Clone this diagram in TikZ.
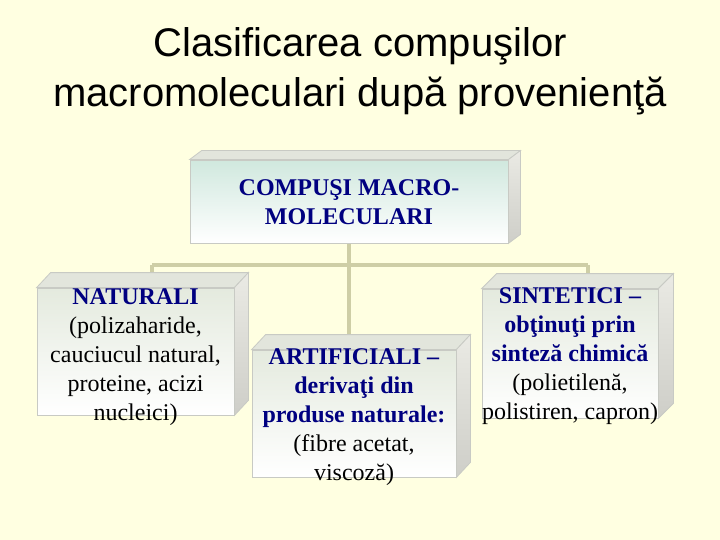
\documentclass[tikz,border=0pt]{standalone}
\usepackage{fontspec}
\setmainfont{Liberation Serif}
\newfontfamily\titlefont{Liberation Sans}
\usetikzlibrary{calc}
\definecolor{bgyel}{RGB}{255,255,225}
\definecolor{navyt}{RGB}{0,0,128}
\definecolor{linek}{RGB}{206,206,166}
\definecolor{edgeg}{RGB}{200,202,196}
\definecolor{facetop}{RGB}{228,234,222}
\definecolor{faceteal}{RGB}{208,232,222}
\definecolor{topf}{RGB}{226,229,220}
\definecolor{sidea}{RGB}{234,234,228}
\definecolor{sideb}{RGB}{206,206,200}
\pgfdeclarelayer{background}
\pgfsetlayers{background,main}
\tikzset{
  frontface/.style={draw=edgeg, line width=0.8pt, top color=facetop, bottom color=white, inner sep=0pt},
  boxtext/.style={inner sep=0pt, align=center, font=\fontsize{24}{29}\selectfont},
  conn/.style={draw=linek, line width=3.5pt},
  titletxt/.style={font=\titlefont\fontsize{40}{48}\selectfont, anchor=base, inner sep=0pt}
}
\newcommand\hdtxt[1]{{\bfseries\color{navyt}#1}}
\newcommand\extrude[3]{%
  \path[fill=topf, draw=edgeg, line width=0.8pt] (#1.north west) -- ++(#2,#3)
     -- ($(#1.north east)+(#2,#3)$) -- (#1.north east) -- cycle;
  \path[top color=sidea, bottom color=sideb, draw=edgeg, line width=0.8pt] (#1.north east) -- ++(#2,#3)
     -- ($(#1.south east)+(#2,#3)$) -- (#1.south east) -- cycle;}
\begin{document}
\begin{tikzpicture}[x=1pt,y=-1pt]
\useasboundingbox (0,0) rectangle (720,540);
\begin{pgfonlayer}{background}
\fill[bgyel] (0,0) rectangle (720,540);
\end{pgfonlayer}

\node[titletxt] (t1) at (360,57) {Clasificarea compuşilor};
\node[titletxt] (t2) at (360,107) {macromoleculari după provenienţă};

% boxes
\node[frontface, top color=faceteal, minimum width=318pt, minimum height=83pt] (top) at (349,201.5) {};
\extrude{top}{12}{-9}
\node[boxtext] (topT) at ($(top.center)+(0,1)$) {\hdtxt{COMPUŞI MACRO-}\\\hdtxt{MOLECULARI}};

\node[frontface, minimum width=197pt, minimum height=127pt] (nat) at (135.5,351.5) {};
\extrude{nat}{14}{-15}
\node[boxtext] (natT) at ($(nat.center)+(0,6)$)
  {\hdtxt{NATURALI}\\(polizaharide,\\cauciucul natural,\\proteine, acizi\\nucleici)};

\node[frontface, minimum width=204pt, minimum height=127pt] (art) at (354,413.5) {};
\extrude{art}{14}{-15}
\node[boxtext] (artT) at ($(art.center)+(0,4)$)
  {\hdtxt{ARTIFICIALI –}\\\hdtxt{derivaţi din}\\\hdtxt{produse naturale:}\\(fibre acetat,\\viscoză)};

\node[frontface, minimum width=176pt, minimum height=129pt] (sin) at (570,353.5) {};
\extrude{sin}{15}{-15}
\node[boxtext] (sinT) at ($(sin.center)+(0,2.5)$)
  {\hdtxt{SINTETICI –}\\\hdtxt{obţinuţi prin}\\\hdtxt{sinteză chimică}\\(polietilenă,\\polistiren, capron)};

% connectors
\coordinate (jl) at (152,265);
\coordinate (jr) at (588,265);
\begin{pgfonlayer}{background}
\draw[conn] (top.south) -- (top.south |- art.north);
\draw[conn] (jl) -- (jr);
\draw[conn] (jl) -- (jl |- nat.north);
\draw[conn] (jr) -- (jr |- sin.north);
\end{pgfonlayer}
\end{tikzpicture}
\end{document}
